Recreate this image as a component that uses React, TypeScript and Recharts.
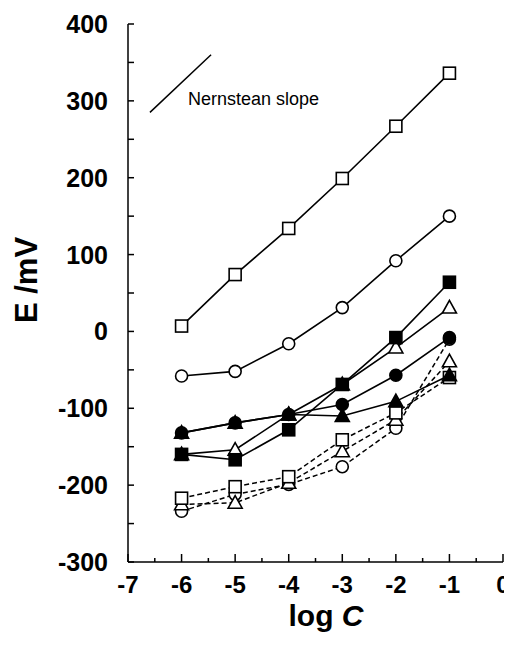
import React from "react";
import {
  LineChart,
  Line,
  XAxis,
  YAxis,
  ReferenceLine,
  ReferenceDot,
} from "recharts";

// log C positions
const logC = [-6, -5, -4, -3, -2, -1];

// solid series
const openSquareSolid = [7, 74, 134, 199, 267, 336];
const openCircleSolid = [-58, -52, -16, 31, 92, 150];
const openTriangleSolid = [-160, -154, -108, -69, -21, 31];
const filledSquare = [-160, -167, -128, -69, -8, 64];
const filledCircle = [-132, -119, -108, -95, -57, -8];
const filledTriangle = [-132, -119, -108, -110, -91, -57];

// dashed series
const openSquareDashed = [-217, -202, -189, -141, -106, -60];
const openTriangleDashed = [-225, -223, -197, -156, -115, -39];
const openCircleDashed = [-234, -212, -199, -176, -126, -10];

// axis ticks (majors get labels)
const xTicks = [-7, -6.5, -6, -5.5, -5, -4.5, -4, -3.5, -3, -2.5, -2, -1.5, -1, -0.5, 0];
const yTicks = [-300, -250, -200, -150, -100, -50, 0, 50, 100, 150, 200, 250, 300, 350, 400];

// the "Nernstean slope" guide segment
const nernstStart = { x: -6.59, y: 285 };
const nernstEnd = { x: -5.45, y: 360 };
const nernstText = { x: -5.88, y: 294, text: "Nernstean slope" };

const chartData = logC.map((x, i) => ({
  x,
  osq: openSquareSolid[i],
  oci: openCircleSolid[i],
  otr: openTriangleSolid[i],
  fsq: filledSquare[i],
  fci: filledCircle[i],
  ftr: filledTriangle[i],
  osqd: openSquareDashed[i],
  otrd: openTriangleDashed[i],
  ocid: openCircleDashed[i],
}));

const PLOT_LEFT = 120;
const PLOT_BOTTOM = 554;
const FONT = "'Liberation Sans', Arial, Helvetica, sans-serif";

type Shape = "square" | "circle" | "triangle";

const makeDot = (shape: Shape, filled: boolean) => (props: any) => {
  const { cx, cy, index } = props;
  const fill = filled ? "#000" : "#fff";
  const key = `${shape}-${filled}-${index}`;
  if (cx == null || cy == null) return <g key={key} />;
  if (shape === "square") {
    const s = 12;
    return (
      <rect key={key} x={cx - s / 2} y={cy - s / 2} width={s} height={s}
        fill={fill} stroke="#000" strokeWidth={1.6} />
    );
  }
  if (shape === "circle") {
    return <circle key={key} cx={cx} cy={cy} r={6} fill={fill} stroke="#000" strokeWidth={1.6} />;
  }
  const h = 12;
  const w = 14;
  return (
    <polygon key={key}
      points={`${cx},${cy - h * 0.6} ${cx - w / 2},${cy + h * 0.45} ${cx + w / 2},${cy + h * 0.45}`}
      fill={fill} stroke="#000" strokeWidth={1.6} />
  );
};

const YTick = (props: any) => {
  const { y, payload } = props;
  const v = payload.value;
  const major = v % 100 === 0;
  return (
    <g>
      <line x1={PLOT_LEFT} x2={PLOT_LEFT + 6} y1={y} y2={y} stroke="#000" strokeWidth={1.5} />
      {major && (
        <text x={PLOT_LEFT - 20} y={y} dy="0.36em" textAnchor="end"
          fontFamily={FONT} fontWeight="bold" fontSize={25} fill="#000">
          {v}
        </text>
      )}
    </g>
  );
};

const XTick = (props: any) => {
  const { x, payload } = props;
  const v = payload.value;
  const major = Number.isInteger(v);
  return (
    <g>
      <line x1={x} x2={x} y1={PLOT_BOTTOM} y2={PLOT_BOTTOM - (major ? 8 : 4)} stroke="#000" strokeWidth={1.5} />
      {major && (
        <text x={x} y={PLOT_BOTTOM + 31} textAnchor="middle"
          fontFamily={FONT} fontWeight="bold" fontSize={24} fill="#000">
          {v}
        </text>
      )}
    </g>
  );
};

const XLabel = () => (
  <text x={318} y={618} textAnchor="middle" fontFamily={FONT} fontWeight="bold" fontSize={30} fill="#000">
    log <tspan fontStyle="italic">C</tspan>
  </text>
);

const YLabel = () => (
  <text x={18} y={272} transform="rotate(-90 18 272)" textAnchor="middle" dy="0.36em"
    fontFamily={FONT} fontWeight="bold" fontSize={31} fill="#000">
    E /mV
  </text>
);

const NernstLabel = (props: any) => {
  const { viewBox } = props;
  return (
    <text x={viewBox.x} y={viewBox.y} fontFamily={FONT} fontSize={18} fill="#000">
      {nernstText.text}
    </text>
  );
};

const App = () => {
  return (
    <LineChart
      width={504}
      height={630}
      data={chartData}
      margin={{ top: 16, right: 9, bottom: 0, left: 0 }}
      style={{ overflow: "visible" }}
    >
      <XAxis
        type="number"
        dataKey="x"
        domain={[-7, 0]}
        ticks={xTicks}
        interval={0}
        tick={<XTick />}
        tickLine={false}
        axisLine={{ stroke: "#000", strokeWidth: 1.5 }}
        height={76}
        label={<XLabel />}
      />
      <YAxis
        type="number"
        domain={[-300, 400]}
        ticks={yTicks}
        interval={0}
        tick={<YTick />}
        tickLine={false}
        axisLine={{ stroke: "#000", strokeWidth: 1.5 }}
        width={120}
        label={<YLabel />}
      />
      <ReferenceLine
        segment={[nernstStart, nernstEnd]}
        stroke="#000"
        strokeWidth={1.5}
      />
      <ReferenceDot x={nernstText.x} y={nernstText.y} r={0} fill="none" stroke="none" label={<NernstLabel />} />

      <Line dataKey="ocid" stroke="#000" strokeWidth={1.5} strokeDasharray="5 3" dot={makeDot("circle", false)} isAnimationActive={false} />
      <Line dataKey="otrd" stroke="#000" strokeWidth={1.5} strokeDasharray="5 3" dot={makeDot("triangle", false)} isAnimationActive={false} />
      <Line dataKey="osqd" stroke="#000" strokeWidth={1.5} strokeDasharray="5 3" dot={makeDot("square", false)} isAnimationActive={false} />

      <Line dataKey="otr" stroke="#000" strokeWidth={1.6} dot={makeDot("triangle", false)} isAnimationActive={false} />
      <Line dataKey="fsq" stroke="#000" strokeWidth={1.6} dot={makeDot("square", true)} isAnimationActive={false} />
      <Line dataKey="fci" stroke="#000" strokeWidth={1.6} dot={makeDot("circle", true)} isAnimationActive={false} />
      <Line dataKey="ftr" stroke="#000" strokeWidth={1.6} dot={makeDot("triangle", true)} isAnimationActive={false} />
      <Line dataKey="oci" stroke="#000" strokeWidth={1.6} dot={makeDot("circle", false)} isAnimationActive={false} />
      <Line dataKey="osq" stroke="#000" strokeWidth={1.6} dot={makeDot("square", false)} isAnimationActive={false} />
    </LineChart>
  );
};

export default App;
